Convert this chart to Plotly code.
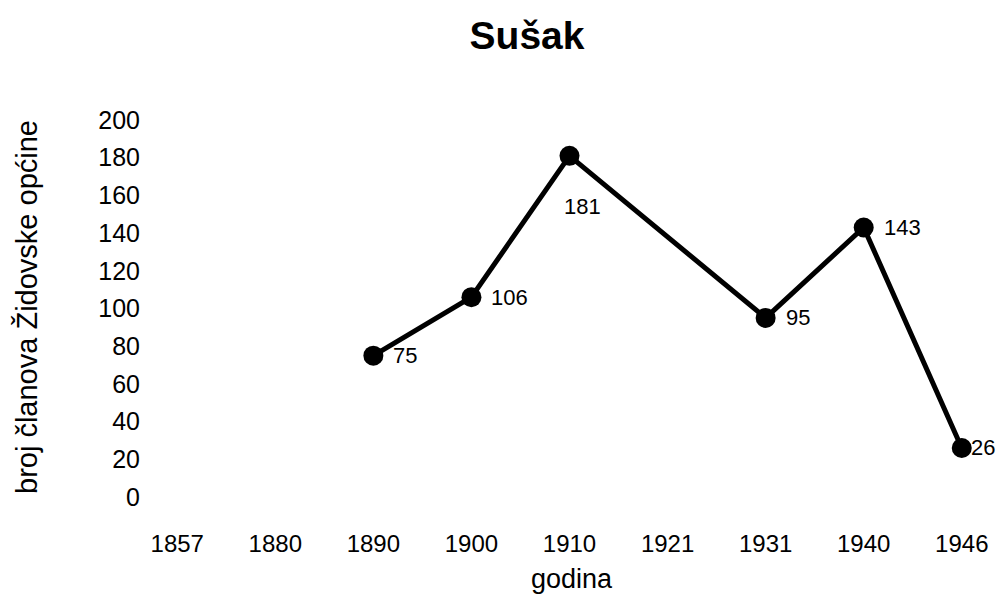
import plotly.graph_objects as go

# podaci
godine = ["1857", "1880", "1890", "1900", "1910", "1921", "1931", "1940", "1946"]
clanovi = [None, None, 75, 106, 181, None, 95, 143, 26]

font_obitelj = "Liberation Sans, Arial, sans-serif"
# stranica ima 8px margine tijela, pa je figura manja za 8px
W, H = 999, 587
L, R, T, B = 130, 6, 112, 98
pw, ph = W - L - R, H - T - B

fig = go.Figure()

fig.add_trace(go.Scatter(
    x=godine,
    y=clanovi,
    mode="lines+markers",
    connectgaps=True,
    line=dict(color="black", width=5),
    marker=dict(size=20, color="black"),
    cliponaxis=False,
    showlegend=False,
    hoverinfo="x+y",
))

# oznake vrijednosti (x je indeks kategorije)
oznake = []
for i, (g, v) in enumerate(zip(godine, clanovi)):
    if v is None:
        continue
    if g == "1910":
        oznake.append(dict(x=i, y=v, text=str(v), showarrow=False,
                           xanchor="center", yanchor="middle", xshift=13, yshift=-51,
                           font=dict(size=22, color="black")))
    else:
        oznake.append(dict(x=i, y=v, text=str(v), showarrow=False,
                           xanchor="left", yanchor="middle",
                           xshift=7 if g == "1946" else 18, yshift=0,
                           font=dict(size=22, color="black")))

fig.update_layout(
    width=W,
    height=H,
    paper_bgcolor="white",
    plot_bgcolor="white",
    margin=dict(l=L, r=R, t=T, b=B),
    font=dict(family=font_obitelj, color="black"),
    title=dict(
        text="<b>Sušak</b>",
        x=519 / W,
        xanchor="center",
        y=1 - 27 / H,
        yanchor="middle",
        font=dict(size=39, family=font_obitelj, color="black"),
    ),
    xaxis=dict(
        type="category",
        range=[-0.4, 8.4],
        automargin=False,
        showgrid=False,
        showline=False,
        zeroline=False,
        ticks="",
        tickfont=dict(size=24),
        ticklabelstandoff=30,
    ),
    yaxis=dict(
        range=[0, 200],
        dtick=20,
        automargin=False,
        showgrid=False,
        showline=False,
        zeroline=False,
        ticks="",
        tickfont=dict(size=25),
        ticklabelstandoff=-3,
    ),
    annotations=oznake + [
        dict(text="godina", xref="paper", yref="paper",
             x=(564 - L) / pw, y=-(571 - (T + ph)) / ph,
             xanchor="center", yanchor="middle", showarrow=False,
             font=dict(size=27)),
        dict(text="broj članova Židovske općine", xref="paper", yref="paper",
             x=-(L - 19) / pw, y=((T + ph) - 299) / ph,
             xanchor="center", yanchor="middle", textangle=-90, showarrow=False,
             font=dict(size=29)),
    ],
)

fig.write_html("out.html")
